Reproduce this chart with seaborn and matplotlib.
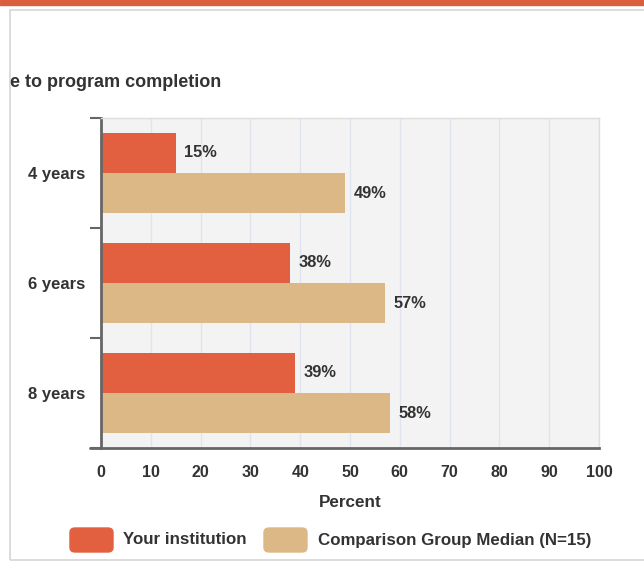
import pandas as pd
import seaborn as sns
import matplotlib.pyplot as plt
from matplotlib.patches import FancyBboxPatch, Rectangle
from matplotlib.lines import Line2D

# Data
categories = ['4 years', '6 years', '8 years']
your_institution = [15, 38, 39]
comparison_median = [49, 57, 58]
series_names = ['Your institution', 'Comparison Group Median (N=15)']
x_ticks = [0, 10, 20, 30, 40, 50, 60, 70, 80, 90, 100]

colors = ['#e2603f', '#ddb887']
text_col = '#333333'

df = pd.DataFrame({
    'category': categories * 2,
    'value': your_institution + comparison_median,
    'series': [series_names[0]] * 3 + [series_names[1]] * 3,
})

sns.set_style('white')
plt.rcParams['font.family'] = ['Liberation Sans', 'DejaVu Sans']
plt.rcParams['font.weight'] = 'bold'

fig = plt.figure(figsize=(6.44, 5.61), dpi=100)

# page decoration: orange top strip and grey panel border
fig.patches.append(Rectangle((0, 1 - 5 / 561), 1, 5 / 561, transform=fig.transFigure,
                             color='#d9603f', zorder=0))
fig.patches.append(Rectangle((10 / 644, 1 / 561), 1.2, (550) / 561, transform=fig.transFigure,
                             fill=False, edgecolor='#d6d6d6', lw=1.2, zorder=0))

ax = fig.add_axes([101 / 644, 113 / 561, 498 / 644, 330 / 561])
ax.set_facecolor('#f3f3f3')

sns.barplot(data=df, y='category', x='value', hue='series', orient='h',
            palette=colors, width=0.73, ax=ax, legend=False, saturation=1,
            linewidth=0)

ax.set_xlim(0, 100)
ax.set_ylim(2.5, -0.5)
ax.set_xticks(x_ticks)
ax.set_xticklabels([str(t) for t in x_ticks], fontsize=11.5, fontweight='bold', color=text_col)
ax.tick_params(axis='x', length=0, pad=12)
ax.xaxis.grid(True, color='#dfe4ef', lw=1)
ax.set_axisbelow(True)

# category labels centred in bands, tick marks at band edges
ax.set_yticks([-0.5, 0.5, 1.5, 2.5])
ax.set_yticklabels([])
ax.tick_params(axis='y', which='major', left=True, length=8, width=1.5,
               color='#666666', direction='out')
ax.set_yticks([0, 1, 2], minor=True)
ax.set_yticklabels(categories, minor=True, fontsize=12, fontweight='bold', color=text_col)
ax.tick_params(axis='y', which='minor', left=True, length=0, pad=11)

ax.set_xlabel('Percent', fontsize=12.3, fontweight='bold', color=text_col, labelpad=11)
ax.set_ylabel('')

for side in ['top', 'right']:
    ax.spines[side].set_color('#dddddd')
    ax.spines[side].set_linewidth(1)
ax.spines['left'].set_color('#666666')
ax.spines['left'].set_linewidth(2)
ax.spines['bottom'].set_color('#666666')
ax.spines['bottom'].set_linewidth(2)
ax.add_line(Line2D([-11 / 498, 0], [0, 0], transform=ax.transAxes, color='#666666',
                   lw=2, clip_on=False))

for cont in ax.containers:
    for bar in cont:
        w = bar.get_width()
        ax.text(w + 1.7, bar.get_y() + bar.get_height() / 2, f'{w:.0f}%',
                va='center', ha='left', fontsize=11.8, fontweight='bold', color=text_col)

fig.text(10 / 644, 1 - 82 / 561, 'e to program completion', fontsize=13,
         fontweight='bold', color=text_col, va='center', ha='left')

# legend
leg_y = 1 - 540 / 561
for x0, txt_x, col, name in [(70, 123, colors[0], series_names[0]),
                             (264, 318, colors[1], series_names[1])]:
    fig.patches.append(FancyBboxPatch((x0 / 644, leg_y - 12 / 561), 43 / 644, 24 / 561,
                                      boxstyle='round,pad=0,rounding_size=0.008',
                                      transform=fig.transFigure, color=col))
    fig.text(txt_x / 644, leg_y, name, fontsize=12.2, fontweight='bold', color=text_col,
             va='center', ha='left')

fig.savefig('out.png', dpi=100)
